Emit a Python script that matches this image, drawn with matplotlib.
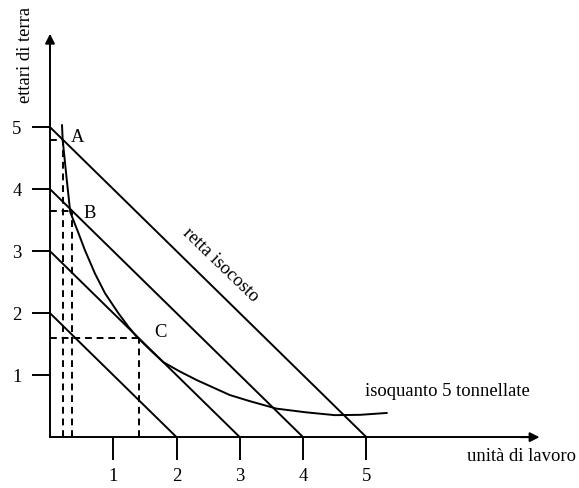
import matplotlib.pyplot as plt

plt.rcParams['font.family'] = ['Liberation Serif', 'DejaVu Serif']

# rette isocosto: x + y = k
isocost_levels = [2, 3, 4, 5]

# isoquanto 5 tonnellate
iso_x = [0.19, 0.20, 0.26, 0.32, 0.45, 0.55, 0.71, 0.87, 1.08, 1.24, 1.37,
         1.58, 1.79, 2.05, 2.32, 2.84, 3.16, 3.58, 4.05, 4.50, 4.90, 5.32]
iso_y = [5.03, 4.80, 4.20, 3.63, 3.29, 3.02, 2.64, 2.32, 2.00, 1.78, 1.62,
         1.41, 1.21, 1.06, 0.92, 0.68, 0.58, 0.46, 0.40, 0.355, 0.36, 0.39]

# punti A, B, C
point_names = ['A', 'B', 'C']
point_x = [0.20, 0.35, 1.40]
point_y = [4.80, 3.65, 1.60]

x_ticks = [1, 2, 3, 4, 5]
y_ticks = [1, 2, 3, 4, 5]

fig = plt.figure(figsize=(5.79, 4.88), dpi=100)
ax = fig.add_axes([0, 0, 1, 1])
ax.set_xlim(-0.79, 8.36)
ax.set_ylim(-0.82, 7.05)

lw = 1.4
fs = 13.4

# assi
for side in ['top', 'right']:
    ax.spines[side].set_visible(False)
ax.spines['left'].set_position(('data', 0))
ax.spines['bottom'].set_position(('data', 0))
ax.spines['left'].set_bounds(0, 6.4)
ax.spines['bottom'].set_bounds(0, 7.6)
ax.spines['left'].set_linewidth(lw)
ax.spines['bottom'].set_linewidth(lw)
ax.annotate('', xy=(0, 6.55), xytext=(0, 6.2),
            arrowprops=dict(arrowstyle='-|>', color='black', lw=lw, mutation_scale=14))
ax.annotate('', xy=(7.78, 0), xytext=(7.4, 0),
            arrowprops=dict(arrowstyle='-|>', color='black', lw=lw, mutation_scale=14))

ax.set_xticks(x_ticks)
ax.set_yticks(y_ticks)
ax.tick_params(axis='x', direction='out', length=16.5, width=lw, pad=5.5, labelsize=fs)
ax.tick_params(axis='y', direction='out', length=13, width=lw, pad=7.5, labelsize=fs)

# rette isocosto
for k in isocost_levels:
    ax.plot([0, k], [k, 0], color='black', lw=lw)

# isoquanto
ax.plot(iso_x, iso_y, color='black', lw=lw)

# tratteggi
for name, px, py in zip(point_names, point_x, point_y):
    ax.plot([px, px], [0, py], color='black', lw=lw, dashes=(3.5, 2.5))
    ax.plot([0, px], [py, py], color='black', lw=lw, dashes=(3.5, 2.5))

ax.text(0.44, 4.84, 'A', fontsize=fs, ha='center', va='center')
ax.text(0.63, 3.61, 'B', fontsize=fs, ha='center', va='center')
ax.text(1.74, 1.69, 'C', fontsize=fs, ha='center', va='center')

ax.text(2.69, 2.77, 'retta isocosto', fontsize=fs, rotation=-44,
        ha='center', va='center', rotation_mode='anchor')
ax.text(4.98, 0.73, 'isoquanto 5 tonnellate', fontsize=fs, ha='left', va='center')
ax.text(6.59, -0.32, 'unità di lavoro', fontsize=fs, ha='left', va='center')
ax.text(-0.39, 6.16, 'ettari di terra', fontsize=fs, rotation=90,
        ha='center', va='center')

plt.savefig('out.png', dpi=100, facecolor='white')
